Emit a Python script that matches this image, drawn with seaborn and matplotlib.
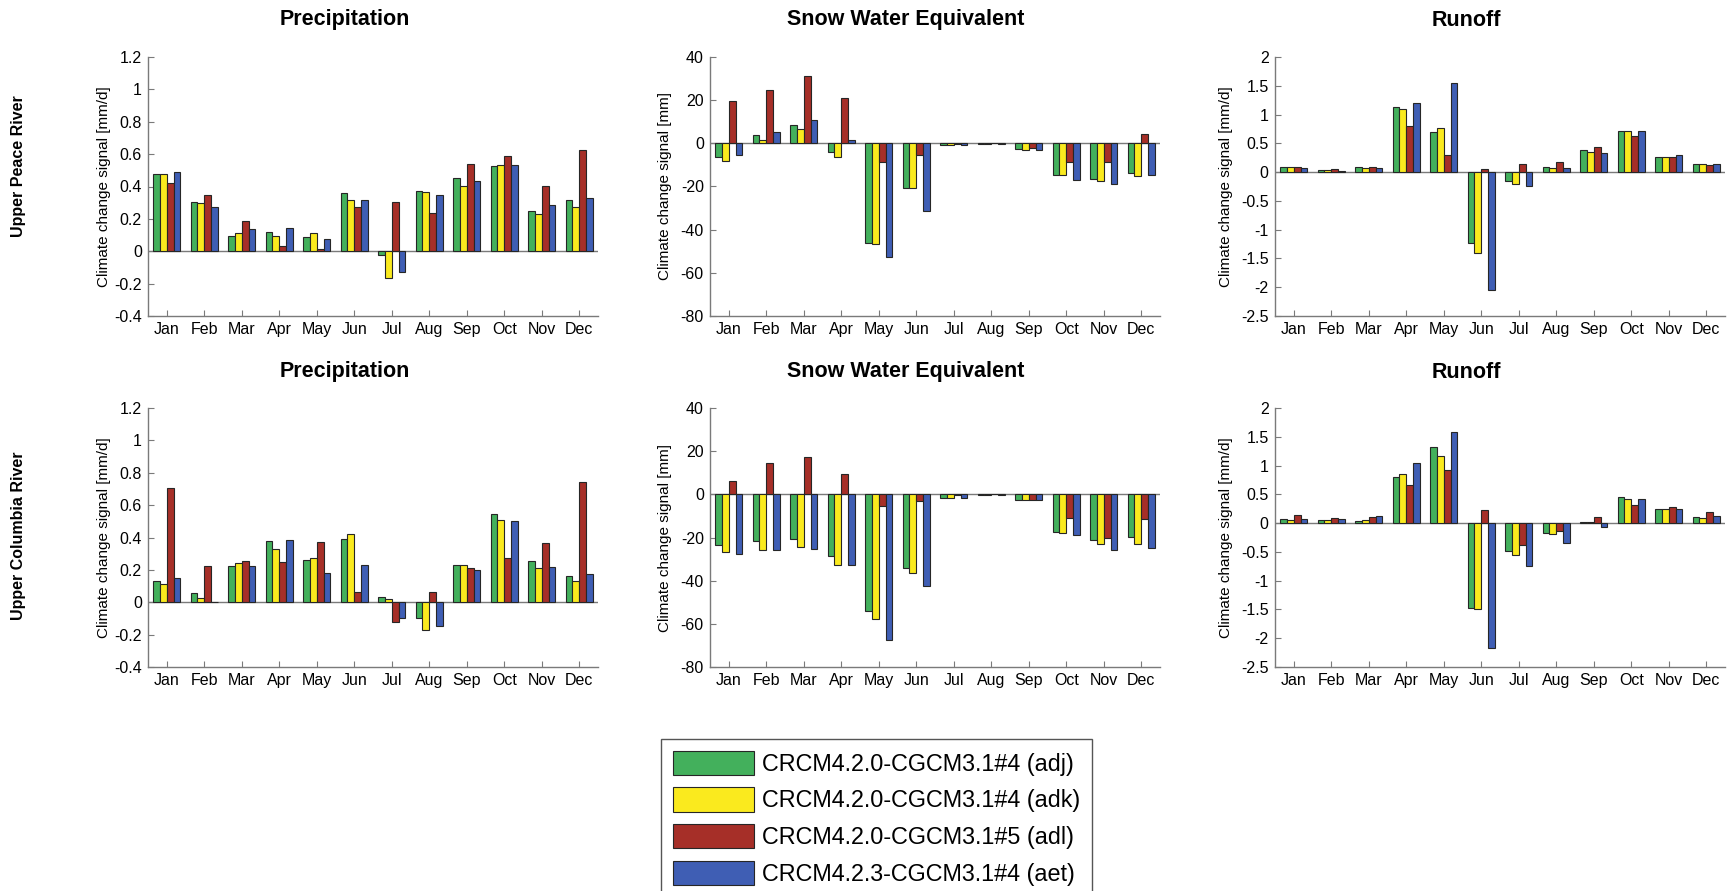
import numpy as np
import pandas as pd
import matplotlib
matplotlib.use("Agg")
import matplotlib.pyplot as plt
from matplotlib.patches import Patch
from matplotlib.ticker import MultipleLocator, FuncFormatter
import seaborn as sns

sns.set_theme(style="white")
plt.rcParams["font.family"] = ["Liberation Sans", "DejaVu Sans"]
plt.rcParams["axes.unicode_minus"] = False

months = ["Jan", "Feb", "Mar", "Apr", "May", "Jun",
          "Jul", "Aug", "Sep", "Oct", "Nov", "Dec"]
runs = ["CRCM4.2.0-CGCM3.1#4 (adj)", "CRCM4.2.0-CGCM3.1#4 (adk)",
        "CRCM4.2.0-CGCM3.1#5 (adl)", "CRCM4.2.3-CGCM3.1#4 (aet)"]
run_colors = ["#43B05C", "#FAEA1E", "#A62F28", "#3F5EB4"]
basins = ["Upper Peace River", "Upper Columbia River"]
variables = ["Precipitation", "Snow Water Equivalent", "Runoff"]
units = ["Climate change signal [mm/d]", "Climate change signal [mm]",
         "Climate change signal [mm/d]"]

# Monthly climate change signals, one list per run (adj, adk, adl, aet)
peace_precip = [
    [0.48, 0.305, 0.093, 0.12, 0.085, 0.359, -0.023, 0.373, 0.454, 0.524, 0.25, 0.318],
    [0.476, 0.295, 0.113, 0.097, 0.113, 0.318, -0.163, 0.369, 0.406, 0.534, 0.233, 0.276],
    [0.42, 0.346, 0.188, 0.031, 0.016, 0.274, 0.307, 0.239, 0.54, 0.586, 0.402, 0.623],
    [0.49, 0.276, 0.14, 0.146, 0.078, 0.315, -0.128, 0.348, 0.437, 0.534, 0.285, 0.326],
]
peace_swe = [
    [-6.2, 3.7, 8.3, -4.2, -46.3, -20.5, -0.8, -0.1, -2.8, -14.8, -16.7, -13.6],
    [-8.3, 1.7, 6.5, -6.2, -46.8, -20.5, -0.6, -0.1, -3.1, -14.8, -17.6, -15.0],
    [19.4, 24.7, 31.0, 20.8, -8.8, -5.6, -0.2, 0.0, -2.3, -8.8, -8.5, 4.2],
    [-5.4, 5.1, 10.6, 1.5, -52.5, -31.5, -0.9, -0.4, -3.2, -17.1, -18.8, -14.8],
]
peace_runoff = [
    [0.087, 0.035, 0.081, 1.125, 0.696, -1.223, -0.162, 0.087, 0.383, 0.707, 0.255, 0.133],
    [0.087, 0.03, 0.064, 1.10, 0.771, -1.397, -0.214, 0.064, 0.342, 0.707, 0.255, 0.133],
    [0.087, 0.058, 0.081, 0.80, 0.29, 0.046, 0.133, 0.168, 0.44, 0.626, 0.255, 0.122],
    [0.064, 0.023, 0.064, 1.194, 1.542, -2.04, -0.243, 0.064, 0.325, 0.713, 0.29, 0.145],
]
columbia_precip = [
    [0.134, 0.06, 0.221, 0.38, 0.258, 0.388, 0.031, -0.10, 0.233, 0.548, 0.254, 0.163],
    [0.114, 0.029, 0.24, 0.326, 0.273, 0.419, 0.019, -0.174, 0.231, 0.508, 0.213, 0.132],
    [0.705, 0.221, 0.254, 0.25, 0.372, 0.066, -0.12, 0.062, 0.211, 0.271, 0.368, 0.742],
    [0.147, 0.004, 0.227, 0.382, 0.18, 0.231, -0.095, -0.145, 0.202, 0.50, 0.219, 0.176],
]
columbia_swe = [
    [-23.4, -21.7, -20.5, -28.7, -53.9, -34.0, -1.8, -0.1, -2.8, -17.3, -21.3, -19.8],
    [-26.9, -25.8, -24.6, -32.9, -57.7, -36.3, -1.9, -0.1, -2.8, -18.0, -23.0, -23.0],
    [6.4, 14.3, 17.3, 9.4, -5.3, -3.2, -0.1, 0.0, -2.8, -11.0, -20.4, -11.4],
    [-27.5, -25.6, -25.2, -32.7, -67.5, -42.6, -1.9, -0.1, -2.8, -18.9, -25.9, -24.7],
]
columbia_runoff = [
    [0.066, 0.055, 0.044, 0.804, 1.317, -1.471, -0.485, -0.176, 0.022, 0.452, 0.253, 0.11],
    [0.055, 0.055, 0.06, 0.854, 1.168, -1.493, -0.562, -0.187, 0.011, 0.424, 0.242, 0.094],
    [0.143, 0.088, 0.11, 0.661, 0.92, 0.22, -0.38, -0.143, 0.099, 0.309, 0.275, 0.193],
    [0.077, 0.066, 0.127, 1.052, 1.581, -2.165, -0.749, -0.353, -0.072, 0.419, 0.242, 0.132],
]
panels = [[peace_precip, peace_swe, peace_runoff],
          [columbia_precip, columbia_swe, columbia_runoff]]

ylims = [(-0.4, 1.2), (-80, 40), (-2.5, 2)]
ysteps = [0.2, 20, 0.5]

# Figure geometry in pixels
W, H = 1734, 891
fig = plt.figure(figsize=(W / 100, H / 100), dpi=100)
col_left = [148, 710, 1275]
axes_w = 450
row_top = [57, 408]
axes_h = 259
title_x = [345, 906, 1466]
title_y = [20, 372]
row_label_y = [166, 536]
ylabel_x = [-0.083, -0.084, -0.093]
axis_gray = "#7a7a7a"
edge = "#262626"

fmt = FuncFormatter(lambda v, _: f"{v:g}")

for r, basin in enumerate(basins):
    for c, var in enumerate(variables):
        values = panels[r][c]
        df = pd.DataFrame({
            "month": np.tile(months, len(runs)),
            "run": np.repeat(runs, len(months)),
            "signal": np.concatenate(values),
        })
        ax = fig.add_axes([col_left[c] / W, 1 - (row_top[r] + axes_h) / H,
                           axes_w / W, axes_h / H])
        ax.axhline(0, color=axis_gray, lw=1.0, zorder=0.5)
        sns.barplot(data=df, x="month", y="signal", hue="run",
                    order=months, hue_order=runs, palette=run_colors,
                    saturation=1, width=0.727, errorbar=None,
                    edgecolor=edge, linewidth=0.8, legend=False, ax=ax)
        ax.set_xlim(-0.5, 11.5)
        ax.set_ylim(*ylims[c])
        ax.yaxis.set_major_locator(MultipleLocator(ysteps[c]))
        ax.yaxis.set_major_formatter(fmt)
        ax.set_xlabel("")
        ax.set_ylabel(units[c], fontsize=11, color="black")
        ax.yaxis.set_label_coords(ylabel_x[c], 0.5)
        for side in ("top", "right"):
            ax.spines[side].set_visible(False)
        for side in ("left", "bottom"):
            ax.spines[side].set_color(axis_gray)
            ax.spines[side].set_linewidth(1.0)
        ax.tick_params(axis="both", which="major", direction="in",
                       length=4, width=0.8, color=axis_gray,
                       labelsize=11.5, labelcolor="black", pad=4.5,
                       bottom=True, left=True)
        fig.text(title_x[c] / W, 1 - title_y[r] / H, var,
                 ha="center", va="center", fontsize=15.5,
                 fontweight="bold", color="black")
    fig.text(19 / W, 1 - row_label_y[r] / H, basin, rotation=90,
             ha="center", va="center", fontsize=11.5, fontweight="bold",
             color="black")

handles = [Patch(facecolor=col, edgecolor=edge, linewidth=0.8)
           for col in run_colors]
leg = fig.legend(handles, runs, loc="upper left",
                 bbox_to_anchor=(661 / W, 1 - 739 / H),
                 frameon=True, fancybox=False, framealpha=1,
                 edgecolor="#555555", fontsize=16.8,
                 handlelength=3.5, handleheight=1.22,
                 labelspacing=0.5, handletextpad=0.35,
                 borderpad=0.5, borderaxespad=0)
leg.get_frame().set_linewidth(1.0)
for t in leg.get_texts():
    t.set_color("black")

fig.savefig("out.png", dpi=100, facecolor="white")
